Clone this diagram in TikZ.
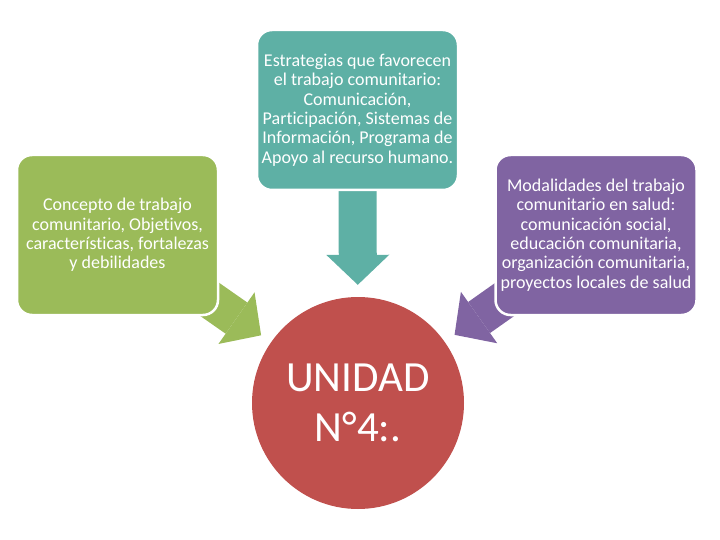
\documentclass[tikz,border=0pt]{standalone}
\usepackage{fontspec}
\setmainfont{Carlito}[Ligatures=NoCommon]
\usetikzlibrary{arrows.meta,backgrounds}
\definecolor{verdeagua}{RGB}{94,176,165}
\definecolor{verdeoliva}{RGB}{155,187,89}
\definecolor{morado}{RGB}{128,100,162}
\definecolor{rojizo}{RGB}{192,80,77}

\begin{document}
\begin{tikzpicture}[x=1pt,y=-1pt]
\tikzstyle{caja}=[rounded corners=15pt, draw=white, line width=2.5pt, minimum width=201pt, minimum height=160pt, align=center, text=white, font=\fontsize{18}{19.4}\selectfont, inner sep=0pt]
\tikzstyle{flecha}=[line width=38pt, -{Triangle[length=30pt,width=63pt,line width=0pt]}, shorten >=12pt]
\useasboundingbox (0,0) rectangle (720,540);
\node [caja, fill=verdeagua] (estrategias) at (357.5,110) {Estrategias que favorecen\\el trabajo comunitario:\\Comunicación,\\Participación, Sistemas de\\Información, Programa de\\Apoyo al recurso humano.};
\node [caja, fill=verdeoliva] (concepto) at (117.5,235) {Concepto de trabajo\\comunitario, Objetivos,\\características, fortalezas\\y debilidades};
\node [caja, fill=morado] (modalidades) at (596,235) {Modalidades del trabajo\\comunitario en salud:\\comunicación social,\\educación comunitaria,\\organización comunitaria,\\proyectos locales de salud};
\node [circle, fill=rojizo, minimum size=212pt, inner sep=0pt, align=center, text=white, font=\fontsize{43}{50}\selectfont] (unidad) at (358,403) {UNIDAD\\N°4:.};
% flechas hacia la unidad
\begin{scope}[on background layer]
\draw [flecha, verdeagua] (estrategias.center) -- (unidad);
\draw [flecha, verdeoliva] (concepto.center) -- (unidad);
\draw [flecha, morado] (modalidades.center) -- (unidad);
\end{scope}
\end{tikzpicture}
\end{document}
